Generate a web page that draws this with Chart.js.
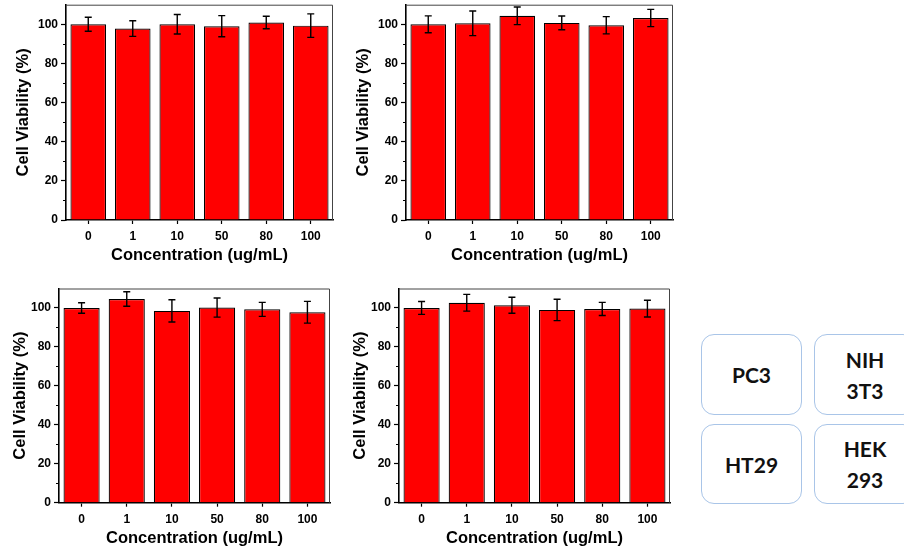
<!DOCTYPE html>
<html>
<head>
<meta charset="utf-8">
<script src="https://cdn.jsdelivr.net/npm/chart.js@4.4.1/dist/chart.umd.min.js"></script>
<style>
  html, body { margin: 0; padding: 0; background: #fff; width: 904px; height: 554px; overflow: hidden; position: relative; }
  canvas { position: absolute; }
  .box { position: absolute; box-sizing: border-box; border: 1.5px solid #a9c5e8; border-radius: 13px;
         display: flex; align-items: center; justify-content: center; text-align: center;
         font-family: Lato, "Open Sans", sans-serif; font-weight: 700; font-size: 21px; line-height: 31px; color: #111; }
</style>
</head>
<body>
<canvas id="c1" width="340" height="275" style="left:0px;top:0px"></canvas>
<canvas id="c2" width="340" height="275" style="left:340px;top:0px"></canvas>
<canvas id="c3" width="340" height="274" style="left:0px;top:280px"></canvas>
<canvas id="c4" width="340" height="274" style="left:340px;top:280px"></canvas>
<div class="box" style="left:701px;top:334px;width:101px;height:81px">PC3</div>
<div class="box" style="left:814px;top:334px;width:102px;height:81px">NIH<br>3T3</div>
<div class="box" style="left:701px;top:424px;width:101px;height:80px">HT29</div>
<div class="box" style="left:814px;top:424px;width:102px;height:80px">HEK<br>293</div>
<script>
const categories = ['0', '1', '10', '50', '80', '100'];
const pc3Values  = [100, 97.8, 100, 99, 100.9, 99.3];
const pc3Errors  = [3.6, 4, 5, 5.4, 3.2, 6];
const nihValues  = [100, 100.5, 104.3, 100.7, 99.5, 103.2];
const nihErrors  = [4.3, 6.3, 4.5, 3.5, 4.4, 4.4];
const ht29Values = [100, 104.6, 98.5, 100.2, 99.3, 97.8];
const ht29Errors = [2.7, 3.7, 5.7, 4.9, 3.6, 5.6];
const hekValues  = [100, 102.7, 101.4, 99, 99.5, 99.7];
const hekErrors  = [3.3, 4.3, 4.1, 5.5, 3.4, 4.3];
const yTicks = [0, 20, 40, 60, 80, 100];
const yMinorTicks = [10, 30, 50, 70, 90];
const yMax = 110;
const xTitle = 'Concentration (ug/mL)';
const yTitle = 'Cell Viability (%)';

const FONT = '"Liberation Sans", Arial, sans-serif';

const errorBarPlugin = {
  id: 'errorBars',
  afterDatasetsDraw(chart) {
    const ctx = chart.ctx;
    const y = chart.scales.y;
    chart.data.datasets.forEach((ds, di) => {
      const meta = chart.getDatasetMeta(di);
      meta.data.forEach((bar, i) => {
        const v = ds.data[i], e = ds.errors[i];
        const yTop = y.getPixelForValue(v + e);
        const yBot = y.getPixelForValue(v - e);
        ctx.save();
        ctx.strokeStyle = '#000';
        ctx.lineWidth = 1.4;
        ctx.beginPath();
        ctx.moveTo(bar.x, yTop); ctx.lineTo(bar.x, yBot);
        ctx.moveTo(bar.x - 3.5, yTop); ctx.lineTo(bar.x + 3.5, yTop);
        ctx.moveTo(bar.x - 3.5, yBot); ctx.lineTo(bar.x + 3.5, yBot);
        ctx.stroke();
        ctx.restore();
      });
    });
  }
};

const framePlugin = {
  id: 'frame',
  afterDraw(chart) {
    const ctx = chart.ctx, a = chart.chartArea, y = chart.scales.y;
    ctx.save();
    ctx.strokeStyle = '#444';
    ctx.lineWidth = 1;
    ctx.beginPath();
    ctx.moveTo(a.left, a.top + 0.5); ctx.lineTo(a.right - 0.5, a.top + 0.5); ctx.lineTo(a.right - 0.5, a.bottom);
    ctx.stroke();
    ctx.strokeStyle = '#000';
    ctx.lineWidth = 1.2;
    ctx.beginPath();
    yMinorTicks.forEach(v => {
      const py = Math.round(y.getPixelForValue(v)) + 0.5;
      ctx.moveTo(a.left - 3, py); ctx.lineTo(a.left, py);
    });
    ctx.stroke();
    ctx.restore();
  }
};

function zeroPad(s) { s.paddingTop = 0; s.paddingBottom = 0; s.paddingLeft = 0; s.paddingRight = 0; }

function makeChart(id, values, errors, geom) {
  new Chart(document.getElementById(id), {
    type: 'bar',
    data: {
      labels: categories,
      datasets: [{
        data: values,
        errors: errors,
        backgroundColor: '#ff0000',
        borderColor: '#000',
        borderWidth: 1.2,
        categoryPercentage: 1.0,
        barPercentage: 0.8
      }]
    },
    options: {
      responsive: false,
      animation: false,
      devicePixelRatio: 1,
      layout: { padding: { top: geom.padTop, right: geom.padRight, left: 0, bottom: 0 } },
      plugins: { legend: { display: false }, tooltip: { enabled: false } },
      scales: {
        x: {
          offset: true,
          grid: { display: true, drawOnChartArea: false, drawTicks: true, tickLength: 4, tickColor: '#000', tickWidth: 1.2, offset: false },
          border: { display: true, color: '#000', width: 1.6 },
          ticks: { color: '#000', padding: geom.xTickPad, maxRotation: 0, font: { family: FONT, size: 12, weight: 'bold' } },
          title: { display: true, text: xTitle, color: '#000', font: { family: FONT, size: 16.5, weight: 'bold' }, padding: { top: 0, bottom: geom.xTitlePad } },
          afterFit(s) { s.height = geom.xHeight; zeroPad(s); }
        },
        y: {
          min: 0, max: yMax,
          afterBuildTicks(s) { s.ticks = yTicks.map(v => ({ value: v })); },
          grid: { display: true, drawOnChartArea: false, drawTicks: true, tickLength: 5, tickColor: '#000', tickWidth: 1.2 },
          border: { display: true, color: '#000', width: 1.6 },
          ticks: { color: '#000', padding: 3, font: { family: FONT, size: 12, weight: 'bold' } },
          title: { display: true, text: yTitle, color: '#000', font: { family: FONT, size: 16.5, weight: 'bold' }, padding: { top: geom.yTitlePad, bottom: 0 } },
          afterFit(s) { s.width = geom.yWidth; zeroPad(s); }
        }
      }
    },
    plugins: [errorBarPlugin, framePlugin]
  });
}

const topGeom = { padTop: 4.7, padRight: 7, yWidth: 66, xHeight: 55, xTickPad: 5, xTitlePad: 10, yTitlePad: 14 };
const botGeom = { padTop: 8.5, padRight: 10, yWidth: 59, xHeight: 51.3, xTickPad: 5.5, xTitlePad: 5.4, yTitlePad: 11 };

makeChart('c1', pc3Values, pc3Errors, topGeom);
makeChart('c2', nihValues, nihErrors, topGeom);
makeChart('c3', ht29Values, ht29Errors, botGeom);
makeChart('c4', hekValues, hekErrors, botGeom);
</script>
</body>
</html>
